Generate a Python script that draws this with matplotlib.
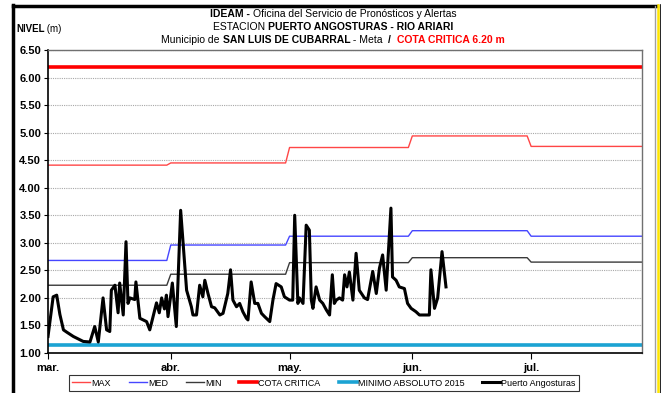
import matplotlib
matplotlib.use("Agg")
import matplotlib.pyplot as plt
from matplotlib.lines import Line2D
import numpy as np
import pandas as pd

# lecturas de la estacion (dias desde el 1 de marzo, nivel en m)
dias_lectura = [
    0, 1.3, 2.2, 3.0, 3.9, 4.7, 6.4, 8.9, 10.6, 11.8,
    12.7, 13.9, 14.8, 15.6, 16.0, 16.9, 17.7, 18.1, 19.0, 19.7,
    20.2, 20.7, 21.9, 22.2, 23.2, 24.9, 25.7, 27.4, 28.1, 28.7,
    29.4, 29.9, 30.3, 31.4, 32.4, 33.5, 35.0, 36.2, 36.6, 37.5,
    38.3, 39.1, 39.6, 40.4, 41.3, 42.1, 43.4, 44.2, 45.4, 46.1,
    46.7, 47.6, 48.4, 49.2, 50.1, 50.5, 51.3, 52.2, 53.0, 53.9,
    54.7, 56.0, 56.8, 57.6, 58.9, 59.7, 61.0, 61.8, 62.3, 63.1,
    63.5, 64.4, 65.2, 66.0, 66.5, 66.9, 67.7, 68.6, 69.4, 70.3,
    71.1, 71.8, 72.3, 72.8, 73.6, 74.4, 74.9, 75.5, 76.1, 77.0,
    77.8, 78.6, 79.9, 80.7, 82.0, 82.9, 83.7, 84.5, 85.4, 86.6,
    87.0, 87.9, 88.7, 90.0, 90.8, 91.7, 92.9, 93.8, 95.5, 96.3,
    96.7, 97.6, 98.4, 99.5, 100.5,
]
nivel_lectura = [
    1.30, 2.02, 2.05, 1.70, 1.42, 1.38, 1.30, 1.21, 1.20, 1.48,
    1.20, 2.00, 1.42, 1.39, 2.14, 2.23, 1.73, 2.27, 1.69, 3.02,
    1.90, 2.00, 1.97, 2.29, 1.63, 1.57, 1.42, 1.91, 1.73, 2.00,
    1.80, 2.05, 1.66, 2.27, 1.48, 3.59, 2.14, 1.84, 1.69, 1.69,
    2.23, 2.02, 2.32, 2.08, 1.84, 1.82, 1.69, 1.72, 2.08, 2.51,
    1.96, 1.84, 1.90, 1.75, 1.63, 1.60, 2.29, 1.90, 1.90, 1.72,
    1.66, 1.57, 1.96, 2.26, 2.20, 2.02, 1.96, 1.96, 3.50, 1.90,
    2.00, 1.90, 3.32, 3.23, 1.96, 1.81, 2.20, 1.96, 1.90, 1.78,
    1.69, 2.42, 1.90, 1.96, 2.00, 1.96, 2.42, 2.20, 2.47, 1.96,
    2.81, 2.14, 2.00, 1.97, 2.48, 2.08, 2.54, 2.78, 2.14, 3.63,
    2.38, 2.32, 2.20, 2.17, 1.90, 1.81, 1.75, 1.69, 1.69, 1.69,
    2.51, 1.81, 2.00, 2.84, 2.20,
]

# niveles historicos mensuales (mar - jul)
meses = ["2015-03", "2015-04", "2015-05", "2015-06", "2015-07"]
etiquetas_mes = ["mar.", "abr.", "may.", "jun.", "jul."]
nivel_max = [4.41, 4.45, 4.73, 4.94, 4.75]
nivel_med = [2.68, 2.96, 3.12, 3.22, 3.12]
nivel_min = [2.23, 2.43, 2.64, 2.73, 2.65]
cota_critica = 6.20
minimo_absoluto = 1.15

inicio = pd.Timestamp("2015-03-01")
fin = pd.Timestamp("2015-07-29")

plt.rcParams["font.family"] = ["Liberation Sans Narrow", "Liberation Sans"]

fig = plt.figure(figsize=(6.61, 3.93), dpi=100)
W, H = 661.0, 393.0
ax = fig.add_axes([48 / W, 1 - 353 / H, (642 - 48) / W, (353 - 50) / H])

# series diarias a partir de los valores mensuales
fechas = pd.date_range(inicio, "2015-07-31", freq="D")
idx = np.array([meses.index(f.strftime("%Y-%m")) for f in fechas])
serie_max = np.array(nivel_max)[idx]
serie_med = np.array(nivel_med)[idx]
serie_min = np.array(nivel_min)[idx]

fechas_lectura = inicio + pd.to_timedelta(dias_lectura, unit="D")

ax.plot(fechas, serie_max, color="#ff4646", lw=1.0, label="MAX")
ax.plot(fechas, serie_med, color="#4646ff", lw=1.0, label="MED")
ax.plot(fechas, serie_min, color="#3a3a3a", lw=1.0, label="MIN")
ax.axhline(cota_critica, color="#ff0000", lw=2.6, label="COTA CRITICA")
ax.axhline(minimo_absoluto, color="#1ba3d3", lw=2.6, label="MINIMO ABSOLUTO 2015")
ax.plot(fechas_lectura, nivel_lectura, color="black", lw=2.2,
        solid_joinstyle="round", label="Puerto Angosturas")

ax.set_xlim(inicio, fin)
ax.set_ylim(1.0, 6.5)
ax.set_yticks(np.arange(1.0, 6.51, 0.5))
ax.set_yticklabels(["%.2f" % v for v in np.arange(1.0, 6.51, 0.5)],
                   fontweight="bold", fontsize=8)
ax.set_xticks([pd.Timestamp(m + "-01") for m in meses])
ax.set_xticklabels(etiquetas_mes, fontweight="bold", fontsize=8)
ax.tick_params(axis="y", length=3, width=0.8, pad=2)
ax.tick_params(axis="x", length=4, width=0.8, pad=3)
ax.yaxis.grid(True, color="#a8a8a8", ls=(0, (1, 1)), lw=0.8)
ax.set_axisbelow(True)
for lado in ["top", "right"]:
    ax.spines[lado].set_color("#707070")
    ax.spines[lado].set_linewidth(1.0)
for lado in ["left", "bottom"]:
    ax.spines[lado].set_color("black")
    ax.spines[lado].set_linewidth(1.2)


def linea_titulo(y_px, partes, x_centro=333, size=7.5):
    prev = None
    textos = []
    for texto, peso, color in partes:
        if prev is None:
            t = fig.text(0, 1 - y_px / H, texto, fontsize=size, fontweight=peso,
                         color=color, ha="left", va="center")
        else:
            t = ax.annotate(texto, xy=(1, 0), xycoords=prev, fontsize=size,
                            fontweight=peso, color=color, ha="left", va="bottom",
                            annotation_clip=False)
        textos.append(t)
        prev = t
    fig.canvas.draw()
    r = fig.canvas.get_renderer()
    x0 = textos[0].get_window_extent(r).x0
    x1 = textos[-1].get_window_extent(r).x1
    ancho = x1 - x0
    textos[0].set_x((x_centro - ancho / 2) / W)


linea_titulo(14, [("IDEAM - ", "bold", "black"),
                  ("Oficina del Servicio de Pronósticos y Alertas", "normal", "black")])
linea_titulo(27, [("ESTACION ", "normal", "black"),
                  ("PUERTO ANGOSTURAS - RIO ARIARI", "bold", "black")])
linea_titulo(40, [("Municipio de ", "normal", "black"),
                  ("SAN LUIS DE CUBARRAL", "bold", "black"),
                  (" - Meta  ", "normal", "black"),
                  ("/  ", "bold", "black"),
                  ("COTA CRITICA 6.20 m", "bold", "#ff0000")])

t_nivel = fig.text(16 / W, 1 - 29 / H, "NIVEL", fontsize=7, fontweight="bold",
                   ha="left", va="center")
ax.annotate(" (m)", xy=(1, 0), xycoords=t_nivel, fontsize=7, ha="left",
            va="bottom", annotation_clip=False)

leg = fig.legend(loc="center", bbox_to_anchor=((73 + 575) / 2 / W, 1 - 383 / H),
                 ncol=6, fontsize=6.5, frameon=True, fancybox=False,
                 edgecolor="black", handlelength=2.0, handletextpad=0.1,
                 columnspacing=2.0, borderpad=0.35)
leg.get_frame().set_linewidth(0.8)

# marco exterior
fig.add_artist(Line2D([13.5 / W, 13.5 / W], [0, 1 - 5 / H], transform=fig.transFigure,
                      color="black", lw=2.5))
fig.add_artist(Line2D([12.5 / W, 657 / W], [1 - 6 / H, 1 - 6 / H], transform=fig.transFigure,
                      color="black", lw=2.5))
fig.add_artist(Line2D([655 / W, 655 / W], [0, 1 - 6 / H], transform=fig.transFigure,
                      color="#a0a0a0", lw=1.0))
fig.add_artist(Line2D([658 / W, 658 / W], [0, 1 - 5 / H], transform=fig.transFigure,
                      color="#ffe600", lw=1.8))
fig.add_artist(Line2D([660.5 / W, 660.5 / W], [0, 1 - 5 / H], transform=fig.transFigure,
                      color="black", lw=1.2))

fig.savefig("out.png", dpi=100)
